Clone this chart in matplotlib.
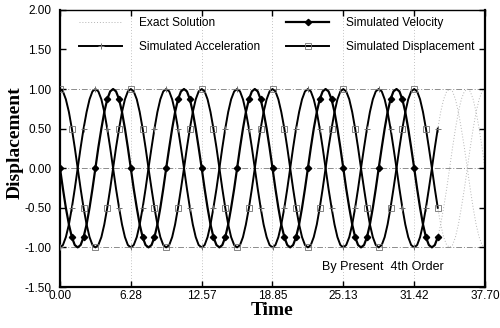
import matplotlib
matplotlib.use("Agg")
import matplotlib.pyplot as plt

SANS = ["Liberation Sans", "DejaVu Sans"]
SERIF = ["Liberation Serif", "DejaVu Serif"]

# time samples (pi/12 spacing)
TIME = [
    0.00, 0.26, 0.52, 0.79, 1.05, 1.31, 1.57, 1.83, 2.09, 2.36, 2.62, 2.88,
    3.14, 3.40, 3.67, 3.93, 4.19, 4.45, 4.71, 4.97, 5.24, 5.50, 5.76, 6.02,
    6.28, 6.54, 6.81, 7.07, 7.33, 7.59, 7.85, 8.12, 8.38, 8.64, 8.90, 9.16,
    9.42, 9.69, 9.95, 10.21, 10.47, 10.73, 11.00, 11.26, 11.52, 11.78, 12.04, 12.30,
    12.57, 12.83, 13.09, 13.35, 13.61, 13.88, 14.14, 14.40, 14.66, 14.92, 15.18, 15.45,
    15.71, 15.97, 16.23, 16.49, 16.76, 17.02, 17.28, 17.54, 17.80, 18.06, 18.33, 18.59,
    18.85, 19.11, 19.37, 19.63, 19.90, 20.16, 20.42, 20.68, 20.94, 21.21, 21.47, 21.73,
    21.99, 22.25, 22.51, 22.78, 23.04, 23.30, 23.56, 23.82, 24.09, 24.35, 24.61, 24.87,
    25.13, 25.39, 25.66, 25.92, 26.18, 26.44, 26.70, 26.97, 27.23, 27.49, 27.75, 28.01,
    28.27, 28.54, 28.80, 29.06, 29.32, 29.58, 29.85, 30.11, 30.37, 30.63, 30.89, 31.15,
    31.42, 31.68, 31.94, 32.20, 32.46, 32.72, 32.99, 33.25, 33.51, 33.77, 34.03, 34.30,
    34.56, 34.82, 35.08, 35.34, 35.60, 35.87, 36.13, 36.39, 36.65, 36.91, 37.18, 37.44,
    37.70,
]

DISP = [
    1.00, 0.97, 0.87, 0.71, 0.50, 0.26, 0.00, -0.26, -0.50, -0.71, -0.87, -0.97,
    -1.00, -0.97, -0.87, -0.71, -0.50, -0.26, 0.00, 0.26, 0.50, 0.71, 0.87, 0.97,
    1.00, 0.97, 0.87, 0.71, 0.50, 0.26, 0.00, -0.26, -0.50, -0.71, -0.87, -0.97,
    -1.00, -0.97, -0.87, -0.71, -0.50, -0.26, 0.00, 0.26, 0.50, 0.71, 0.87, 0.97,
    1.00, 0.97, 0.87, 0.71, 0.50, 0.26, 0.00, -0.26, -0.50, -0.71, -0.87, -0.97,
    -1.00, -0.97, -0.87, -0.71, -0.50, -0.26, 0.00, 0.26, 0.50, 0.71, 0.87, 0.97,
    1.00, 0.97, 0.87, 0.71, 0.50, 0.26, 0.00, -0.26, -0.50, -0.71, -0.87, -0.97,
    -1.00, -0.97, -0.87, -0.71, -0.50, -0.26, 0.00, 0.26, 0.50, 0.71, 0.87, 0.97,
    1.00, 0.97, 0.87, 0.71, 0.50, 0.26, 0.00, -0.26, -0.50, -0.71, -0.87, -0.97,
    -1.00, -0.97, -0.87, -0.71, -0.50, -0.26, 0.00, 0.26, 0.50, 0.71, 0.87, 0.97,
    1.00, 0.97, 0.87, 0.71, 0.50, 0.26, 0.00, -0.26, -0.50, -0.71, -0.87, -0.97,
    -1.00, -0.97, -0.87, -0.71, -0.50, -0.26, 0.00, 0.26, 0.50, 0.71, 0.87, 0.97,
    1.00,
]

VEL = [
    0.00, -0.26, -0.50, -0.71, -0.87, -0.97, -1.00, -0.97, -0.87, -0.71, -0.50, -0.26,
    0.00, 0.26, 0.50, 0.71, 0.87, 0.97, 1.00, 0.97, 0.87, 0.71, 0.50, 0.26,
    0.00, -0.26, -0.50, -0.71, -0.87, -0.97, -1.00, -0.97, -0.87, -0.71, -0.50, -0.26,
    0.00, 0.26, 0.50, 0.71, 0.87, 0.97, 1.00, 0.97, 0.87, 0.71, 0.50, 0.26,
    0.00, -0.26, -0.50, -0.71, -0.87, -0.97, -1.00, -0.97, -0.87, -0.71, -0.50, -0.26,
    0.00, 0.26, 0.50, 0.71, 0.87, 0.97, 1.00, 0.97, 0.87, 0.71, 0.50, 0.26,
    0.00, -0.26, -0.50, -0.71, -0.87, -0.97, -1.00, -0.97, -0.87, -0.71, -0.50, -0.26,
    0.00, 0.26, 0.50, 0.71, 0.87, 0.97, 1.00, 0.97, 0.87, 0.71, 0.50, 0.26,
    0.00, -0.26, -0.50, -0.71, -0.87, -0.97, -1.00, -0.97, -0.87, -0.71, -0.50, -0.26,
    0.00, 0.26, 0.50, 0.71, 0.87, 0.97, 1.00, 0.97, 0.87, 0.71, 0.50, 0.26,
    0.00, -0.26, -0.50, -0.71, -0.87, -0.97, -1.00, -0.97, -0.87, -0.71, -0.50, -0.26,
    0.00, 0.26, 0.50, 0.71, 0.87, 0.97, 1.00, 0.97, 0.87, 0.71, 0.50, 0.26,
    0.00,
]

ACC = [
    -1.00, -0.97, -0.87, -0.71, -0.50, -0.26, 0.00, 0.26, 0.50, 0.71, 0.87, 0.97,
    1.00, 0.97, 0.87, 0.71, 0.50, 0.26, 0.00, -0.26, -0.50, -0.71, -0.87, -0.97,
    -1.00, -0.97, -0.87, -0.71, -0.50, -0.26, 0.00, 0.26, 0.50, 0.71, 0.87, 0.97,
    1.00, 0.97, 0.87, 0.71, 0.50, 0.26, 0.00, -0.26, -0.50, -0.71, -0.87, -0.97,
    -1.00, -0.97, -0.87, -0.71, -0.50, -0.26, 0.00, 0.26, 0.50, 0.71, 0.87, 0.97,
    1.00, 0.97, 0.87, 0.71, 0.50, 0.26, 0.00, -0.26, -0.50, -0.71, -0.87, -0.97,
    -1.00, -0.97, -0.87, -0.71, -0.50, -0.26, 0.00, 0.26, 0.50, 0.71, 0.87, 0.97,
    1.00, 0.97, 0.87, 0.71, 0.50, 0.26, 0.00, -0.26, -0.50, -0.71, -0.87, -0.97,
    -1.00, -0.97, -0.87, -0.71, -0.50, -0.26, 0.00, 0.26, 0.50, 0.71, 0.87, 0.97,
    1.00, 0.97, 0.87, 0.71, 0.50, 0.26, 0.00, -0.26, -0.50, -0.71, -0.87, -0.97,
    -1.00, -0.97, -0.87, -0.71, -0.50, -0.26, 0.00, 0.26, 0.50, 0.71, 0.87, 0.97,
    1.00, 0.97, 0.87, 0.71, 0.50, 0.26, 0.00, -0.26, -0.50, -0.71, -0.87, -0.97,
    -1.00,
]

N_SIM = 129          # simulated run stops at t = 33.51
XTICKS = [0.0, 6.2832, 12.5664, 18.8496, 25.1327, 31.4159, 37.6991]
YTICKS = [-1.5, -1.0, -0.5, 0.0, 0.5, 1.0, 1.5, 2.0]
HLINES = [-1.0, 0.0, 1.0]

fig = plt.figure(figsize=(5.0, 3.28), dpi=100)
ax = fig.add_axes([0.12, 0.125, 0.85, 0.845])

for y in HLINES:
    ax.axhline(y, color="#8c8c8c", lw=0.7, ls=(0, (6, 2, 1, 2)), zorder=1)
for x in XTICKS[1:-1]:
    ax.axvline(x, color="#b0b0b0", lw=0.6, ls=(0, (1, 2.5)), zorder=1)

# exact solution, faint dotted, runs the full span
EX = dict(color="#b4b4b4", lw=0.7, ls=(0, (1, 2)), zorder=2)
ax.plot(TIME, DISP, label="Exact Solution", **EX)
ax.plot(TIME, VEL, **EX)
ax.plot(TIME, ACC, **EX)

t_sim = TIME[:N_SIM]
ax.plot(t_sim, VEL[:N_SIM], color="black", lw=1.6, marker="D", ms=3.2,
        markevery=4, zorder=5, label="Simulated Velocity")
ax.plot(t_sim, ACC[:N_SIM], color="black", lw=1.4, marker="+", ms=4.5,
        mec="#707070", mew=0.7, markevery=4, zorder=4,
        label="Simulated Acceleration")
ax.plot(t_sim, DISP[:N_SIM], color="black", lw=1.4, marker="s", ms=3.8,
        mfc="none", mec="#707070", mew=0.6, markevery=4, zorder=4,
        label="Simulated Displacement")

ax.set_xlim(0, 37.70)
ax.set_ylim(-1.5, 2.0)
ax.set_xticks(XTICKS)
ax.set_xticklabels([f"{v:.2f}" for v in XTICKS])
ax.set_yticks(YTICKS)
ax.set_yticklabels([f"{v:.2f}" for v in YTICKS])
ax.tick_params(direction="in", length=4, width=1.0, top=True, right=True,
               labelsize=8.5)
ax.tick_params(axis="x", pad=2.5)
ax.tick_params(axis="y", pad=6)
for lab in ax.get_xticklabels() + ax.get_yticklabels():
    lab.set_family(SANS)
for s in ("left", "bottom", "right"):
    ax.spines[s].set_linewidth(1.6)
ax.spines["top"].set_linewidth(1.0)

ax.set_xlabel("Time", family=SERIF, fontweight="bold", fontsize=14)
ax.xaxis.set_label_coords(0.5, -0.055)
ax.set_ylabel("Displacement", family=SERIF, fontweight="bold", fontsize=14)
ax.yaxis.set_label_coords(-0.085, 0.52)

h, l = ax.get_legend_handles_labels()
order = [0, 2, 1, 3]
ax.legend([h[i] for i in order], [l[i] for i in order], ncol=2,
          loc="upper left", bbox_to_anchor=(0.045, 0.975), frameon=False,
          prop={"family": SANS, "size": 8.6}, handlelength=3.6,
          handletextpad=1.4, columnspacing=2.2, labelspacing=1.05,
          borderpad=0, borderaxespad=0, numpoints=1)

ax.text(0.76, 0.072, "By Present  4th Order", transform=ax.transAxes,
        ha="center", va="center", fontsize=9, family=SANS)

fig.savefig("out.png", dpi=100, facecolor="white")
